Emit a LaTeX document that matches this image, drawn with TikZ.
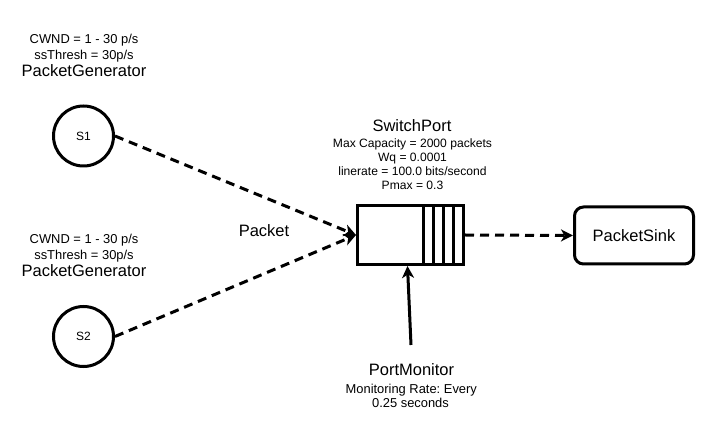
\documentclass[tikz,border=0pt]{standalone}
\usepackage{fontspec}
\setmainfont{Liberation Sans}
\usetikzlibrary{arrows.meta}
\frenchspacing
\begin{document}
\begin{tikzpicture}[x=1pt,y=-1pt,
  big/.style={anchor=base, inner sep=0pt, font=\fontsize{16.5}{19}\selectfont},
  small/.style={anchor=base, inner sep=0pt, font=\fontsize{12.9}{15}\selectfont},
  smaller/.style={anchor=base, inner sep=0pt, font=\fontsize{12.1}{14}\selectfont},
  gen/.style={circle, draw, line width=3pt, minimum size=60pt, inner sep=0pt, font=\fontsize{12}{14}\selectfont},
  thickline/.style={line width=3pt},
  dashline/.style={line width=3pt, dash pattern=on 9pt off 6pt},
  tip/.style={-{Stealth[length=12pt,width=12pt,inset=3.5pt]}}
]
\useasboundingbox (0,0) rectangle (716,446);

% generator 1
\node[small] (c1) at (84,43.5) {CWND = 1 - 30 p/s};
\node[small] (t1) at (84,59.5) {ssThresh = 30p/s};
\node[big] (g1) at (84,76.7) {PacketGenerator};
\node[gen] (s1) at (83.5,136) {S1};

% generator 2
\node[small] (c2) at (84,243.5) {CWND = 1 - 30 p/s};
\node[small] (t2) at (84,259.5) {ssThresh = 30p/s};
\node[big] (g2) at (84,276.7) {PacketGenerator};
\node[gen] (s2) at (83.5,336.5) {S2};

% switch port
\node[big] (swt) at (412,131.7) {SwitchPort};
\node[smaller] (sw1) at (412.5,147.3) {Max Capacity = 2000 packets};
\node[smaller] (sw2) at (412.5,161.2) {Wq = 0.0001};
\node[smaller] (sw3) at (412.5,175.2) {linerate = 100.0 bits/second};
\node[smaller] (sw4) at (412.5,189.3) {Pmax = 0.3};
\node[draw, thickline, minimum width=106pt, minimum height=59pt, inner sep=0pt] (sw) at (410.5,235) {};
\draw[thickline] (423,205.5) -- (423,264.5);
\draw[thickline] (433.2,205.5) -- (433.2,264.5);
\draw[thickline] (443.5,205.5) -- (443.5,264.5);
\draw[thickline] (453.7,205.5) -- (453.7,264.5);

% packet label
\node[big] (pk) at (264,237) {Packet};

% sink
\node[draw, thickline, rounded corners=9pt, minimum width=119pt, minimum height=57pt, inner sep=0pt,
      font=\fontsize{16.5}{19}\selectfont] (sink) at (634,235.5) {PacketSink};

% monitor
\node[big] (pm) at (411.5,375.7) {PortMonitor};
\node[small] (pm1) at (411.3,394) {Monitoring Rate: Every};
\node[small] (pm2) at (410.5,407.3) {0.25 seconds};
\coordinate (mon) at (411,345);

% connectors
\draw[dashline, tip] (s1.east) -- (sw.west);
\draw[dashline, tip] (s2.east) -- (sw.west);
\draw[dashline, tip] (sw.east) -- (sink.west);
\draw[thickline, tip] (mon) -- ([xshift=-3pt]sw.south);
\end{tikzpicture}
\end{document}
